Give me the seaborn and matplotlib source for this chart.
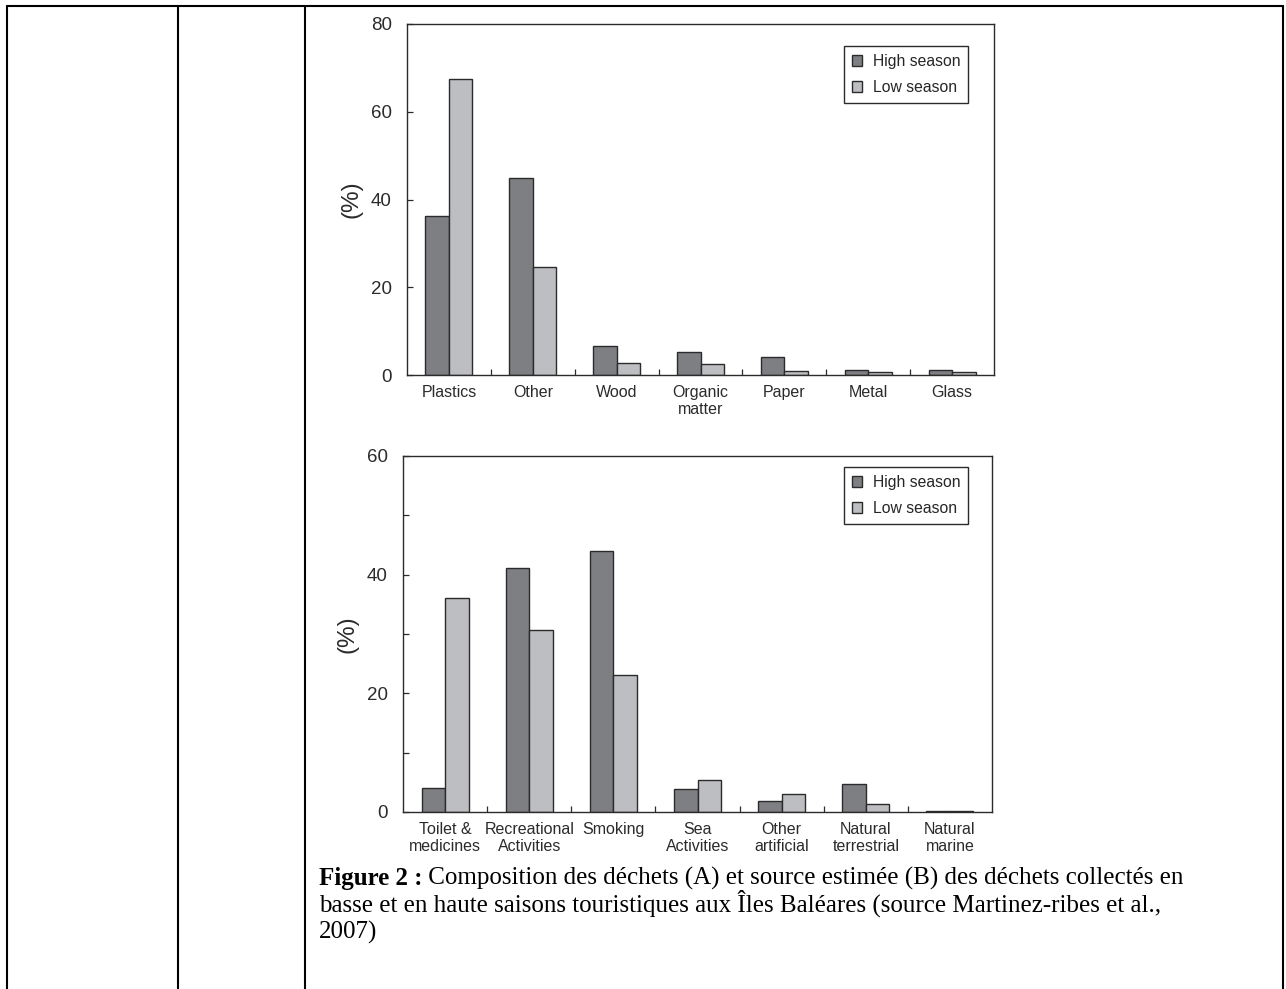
import matplotlib
matplotlib.use("Agg")
import matplotlib.pyplot as plt
import seaborn as sns
import pandas as pd
from matplotlib.lines import Line2D
from matplotlib.ticker import FixedLocator

# ---------------- data ----------------
comp_categories = ["Plastics", "Other", "Wood", "Organic\nmatter", "Paper", "Metal", "Glass"]
comp_high = [36.2, 45.0, 6.6, 5.3, 4.0, 1.2, 1.2]
comp_low = [67.5, 24.6, 2.8, 2.5, 0.9, 0.6, 0.6]

src_categories = ["Toilet &\nmedicines", "Recreational\nActivities", "Smoking", "Sea\nActivities",
                  "Other\nartificial", "Natural\nterrestrial", "Natural\nmarine"]
src_high = [4.1, 41.1, 44.0, 3.8, 1.8, 4.8, 0.2]
src_low = [36.0, 30.6, 23.1, 5.4, 3.1, 1.4, 0.2]

seasons = ["High season", "Low season"]
season_colors = ["#7e7f83", "#bdbec2"]

caption_bold = "Figure 2 :"
caption_line1 = " Composition des déchets (A) et source estimée (B) des déchets collectés en"
caption_line2 = "basse et en haute saisons touristiques aux Îles Baléares (source Martinez-ribes et al.,"
caption_line3 = "2007)"

# ---------------- style ----------------
sns.set_theme(style="white")
plt.rcParams["font.family"] = ["Liberation Sans", "DejaVu Sans"]
ink = "#2b2b2b"

W, H = 1286, 989
fig = plt.figure(figsize=(W / 100, H / 100), dpi=100)
fig.patch.set_facecolor("white")


def px_axes(left, top, right, bottom):
    return fig.add_axes([left / W, 1 - bottom / H, (right - left) / W, (bottom - top) / H])


def make_df(cats, high, low):
    return pd.DataFrame({
        "category": cats * 2,
        "value": list(high) + list(low),
        "season": [seasons[0]] * len(cats) + [seasons[1]] * len(cats),
    })


def draw(ax, cats, high, low, ymax, major, minor, legend_corner):
    df = make_df(cats, high, low)
    sns.barplot(data=df, x="category", y="value", hue="season", order=cats,
                hue_order=seasons, palette=season_colors, width=0.56, gap=0,
                edgecolor=ink, linewidth=1.0, saturation=1, ax=ax, errorbar=None)
    ax.set_xlim(-0.5, len(cats) - 0.5)
    ax.set_ylim(0, ymax)
    ax.set_xlabel("")
    ax.set_ylabel("(%)", fontsize=17.5, color=ink, labelpad=6)
    ax.yaxis.set_major_locator(FixedLocator(major))
    ax.yaxis.set_minor_locator(FixedLocator(minor))
    ax.xaxis.set_minor_locator(FixedLocator([i + 0.5 for i in range(len(cats) - 1)]))
    ax.tick_params(axis="y", which="both", direction="in", length=4, width=0.9,
                   color=ink, labelsize=13.5, labelcolor=ink, pad=11, left=True)
    ax.tick_params(axis="x", which="major", length=0, labelsize=11.5,
                   labelcolor=ink, pad=7)
    ax.tick_params(axis="x", which="minor", direction="in", length=4, width=0.9,
                   color=ink, bottom=True)
    for s in ax.spines.values():
        s.set_visible(True)
        s.set_color(ink)
        s.set_linewidth(1.0)
    lx, ly = legend_corner
    leg = ax.legend(loc="upper right", bbox_to_anchor=(lx / W, 1 - ly / H),
                    bbox_transform=fig.transFigure, borderaxespad=0,
                    fontsize=11.3, frameon=True, fancybox=False,
                    edgecolor=ink, framealpha=1, handlelength=0.65, handleheight=0.65,
                    handletextpad=0.65, labelspacing=0.7, borderpad=0.5)
    leg.get_frame().set_linewidth(1.0)


ax1 = px_axes(407, 24, 994, 375)
draw(ax1, comp_categories, comp_high, comp_low, 80, [0, 20, 40, 60, 80], [], (968, 46))

ax2 = px_axes(403, 456, 992, 812)
draw(ax2, src_categories, src_high, src_low, 60, [0, 20, 40, 60], [10, 30, 50], (968, 467))

# ---------------- table borders ----------------
lw = 1.5
for x in (7, 178, 305, 1283):
    fig.add_artist(Line2D([x / W, x / W], [1 - 6 / H, 0], transform=fig.transFigure,
                          color="black", linewidth=lw))
fig.add_artist(Line2D([7 / W, 1283 / W], [1 - 6 / H, 1 - 6 / H], transform=fig.transFigure,
                      color="black", linewidth=lw))

# ---------------- caption ----------------
serif = ["Liberation Serif", "DejaVu Serif"]
cap_size = 18.0
x0 = 319
t_bold = fig.text(x0 / W, 1 - 885 / H, caption_bold, fontsize=cap_size, fontweight="bold",
                  family=serif, va="baseline", ha="left", color="black")
fig.canvas.draw()
bb = t_bold.get_window_extent(renderer=fig.canvas.get_renderer())
fig.text(bb.x1 / W, 1 - 885 / H, caption_line1, fontsize=cap_size, family=serif,
         va="baseline", ha="left", color="black")
fig.text(x0 / W, 1 - 912 / H, caption_line2, fontsize=cap_size, family=serif,
         va="baseline", ha="left", color="black")
fig.text(x0 / W, 1 - 939 / H, caption_line3, fontsize=cap_size, family=serif,
         va="baseline", ha="left", color="black")

fig.savefig("out.png", dpi=100, facecolor="white")
